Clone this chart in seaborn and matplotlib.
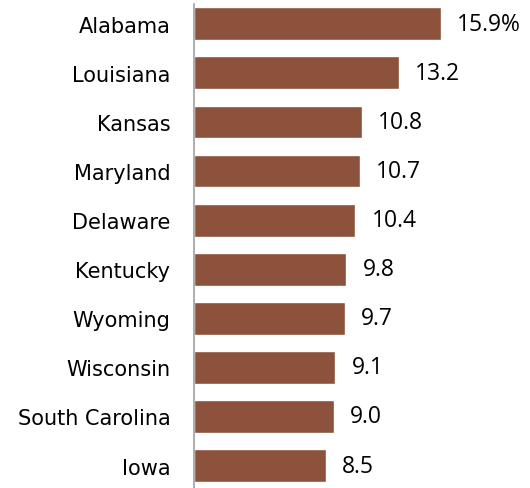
import matplotlib
matplotlib.use("Agg")
import matplotlib.pyplot as plt
import seaborn as sns
import pandas as pd

states = ["Alabama", "Louisiana", "Kansas", "Maryland", "Delaware",
          "Kentucky", "Wyoming", "Wisconsin", "South Carolina", "Iowa"]
values = [15.9, 13.2, 10.8, 10.7, 10.4, 9.8, 9.7, 9.1, 9.0, 8.5]
labels = ["15.9%", "13.2", "10.8", "10.7", "10.4", "9.8", "9.7", "9.1", "9.0", "8.5"]

df = pd.DataFrame({"state": states, "value": values})

sns.set_style("white")
fig = plt.figure(figsize=(5.30, 4.89), dpi=100)
ax = fig.add_axes([194 / 530, 0, 326 / 530, 484 / 489])

sns.barplot(data=df, x="value", y="state", orient="h", color="#8C523B",
            saturation=1, width=0.67, ax=ax)

for i, (v, t) in enumerate(zip(values, labels)):
    ax.text(v + 1.05, i, t, va="center", ha="left", fontsize=16.5,
            family="Open Sans", color="black")

ax.set_xlim(0, 21)
ax.set_ylim(9.458, -0.403)
ax.set_xlabel("")
ax.set_ylabel("")
ax.set_xticks([])
for s in ["top", "right", "bottom"]:
    ax.spines[s].set_visible(False)
ax.spines["left"].set_color("#A0A0A0")
ax.spines["left"].set_linewidth(1.2)
ax.tick_params(axis="y", length=0, pad=17, labelsize=15, labelcolor="black")

fig.savefig("out.png", dpi=100)
